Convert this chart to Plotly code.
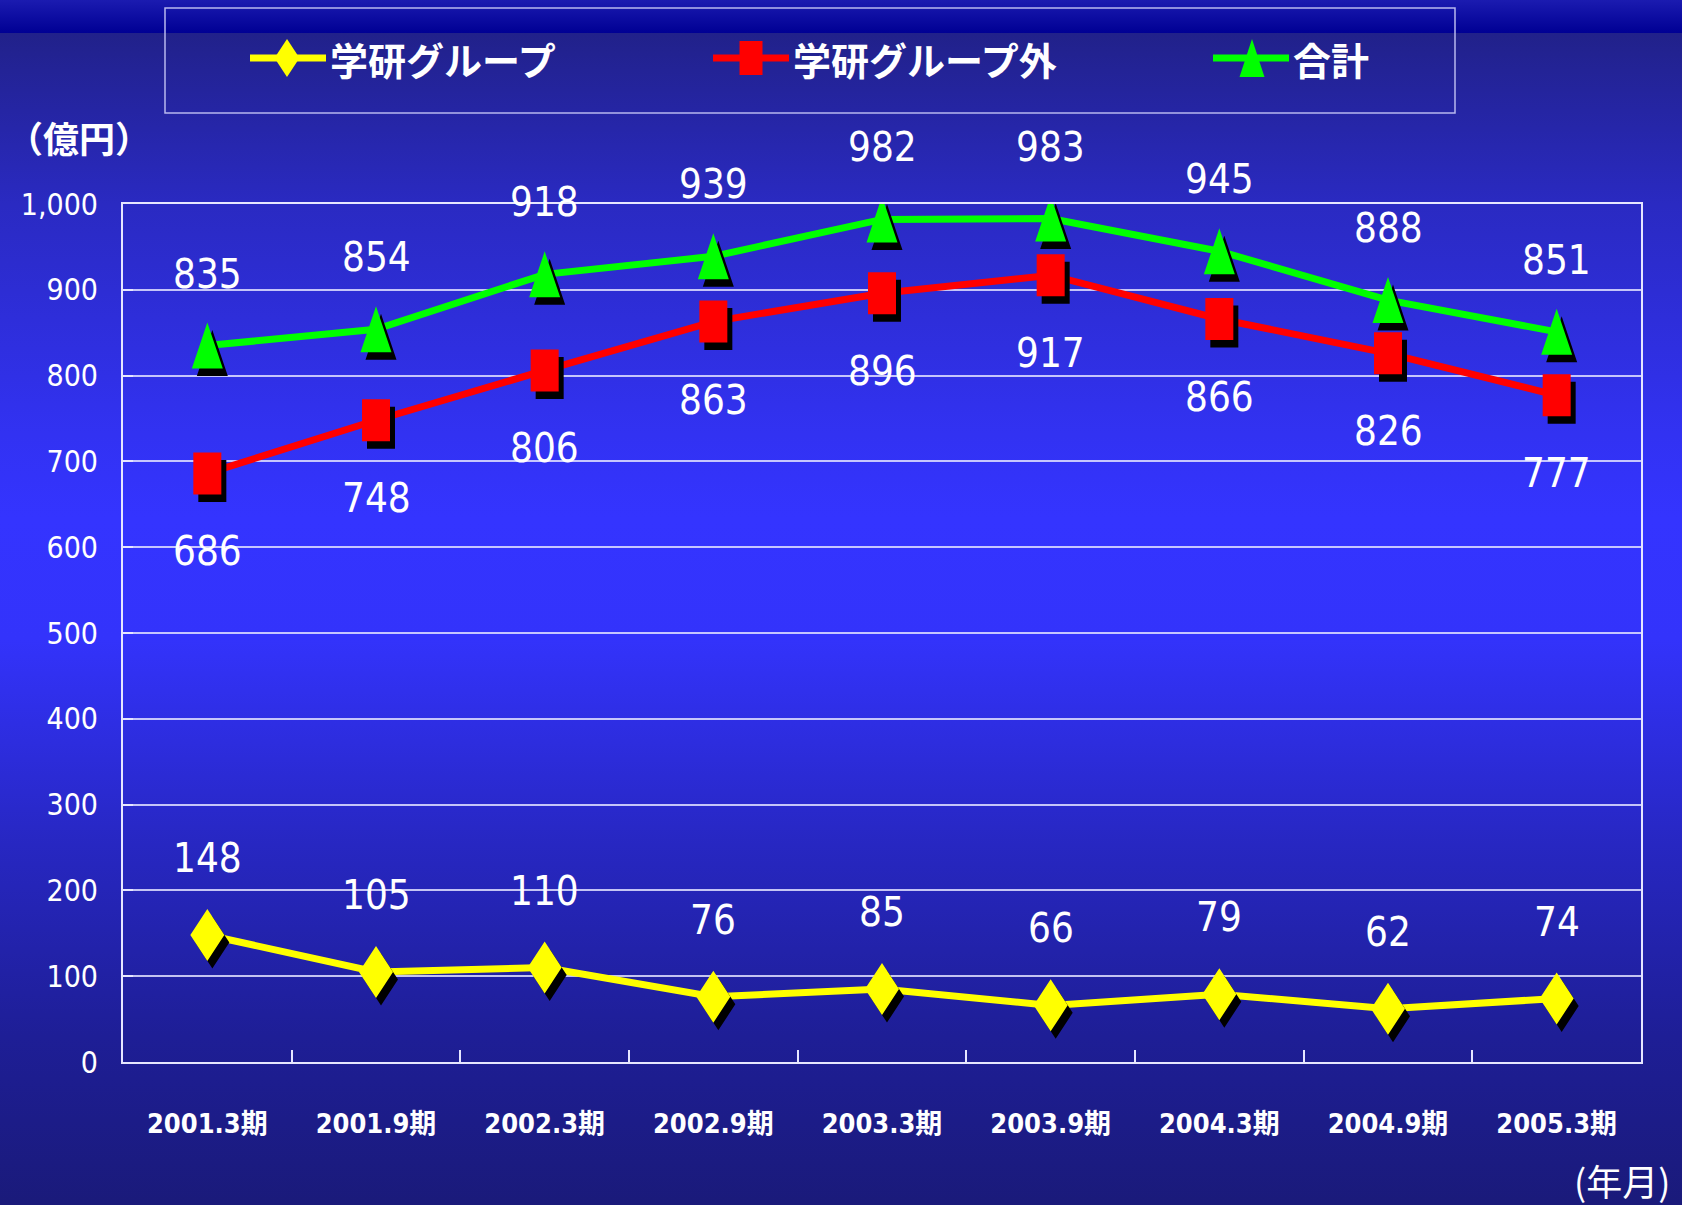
import base64
import plotly.graph_objects as go

# ---------------- data ----------------
categories = ["2001.3期", "2001.9期", "2002.3期", "2002.9期", "2003.3期",
              "2003.9期", "2004.3期", "2004.9期", "2005.3期"]
gakken_group = [148, 105, 110, 76, 85, 66, 79, 62, 74]
gakken_outside = [686, 748, 806, 863, 896, 917, 866, 826, 777]
total = [835, 854, 918, 939, 982, 983, 945, 888, 851]
series_names = ["学研グループ", "学研グループ外", "合計"]
y_ticks = [0, 100, 200, 300, 400, 500, 600, 700, 800, 900, 1000]
y_tick_labels = ["0", "100", "200", "300", "400", "500", "600", "700", "800", "900", "1,000"]
y_unit = "（億円）"
x_unit = "(年月)"

# ---------------- geometry ----------------
W, H = 1682, 1205
ML, MR, MT, MB = 123, 41, 204, 143
PW, PH = W - ML - MR, H - MT - MB
XMIN, XMAX = -0.5, len(categories) - 0.5
YMIN, YMAX = 0, 1000
PXX = PW / (XMAX - XMIN)
PXY = PH / (YMAX - YMIN)


def paper_x(px):
    return (px - ML) / PW


def paper_y(py):
    return (H - MB - py) / PH


NUM_FONT = "DejaVu Sans Condensed, Liberation Sans, Noto Sans CJK JP, sans-serif"
JP_FONT = "Noto Sans CJK JP, Liberation Sans, sans-serif"
LIGHT = "#e6e6ff"

# ---------------- background gradient (SVG image) ----------------
stops = [
    (0.000, "#1b1bb0"), (0.027, "#000094"), (0.0272, "#21218a"),
    (0.17, "#2a2ac2"), (0.36, "#3232f2"), (0.43, "#3434ff"),
    (0.53, "#3333fb"), (0.70, "#2727c2"), (0.86, "#1e1e96"), (1.0, "#1a1a7a"),
]
stop_xml = "".join(f'<stop offset="{o}" stop-color="{c}"/>' for o, c in stops)
svg = (f'<svg xmlns="http://www.w3.org/2000/svg" width="{W}" height="{H}" preserveAspectRatio="none">'
       f'<defs><linearGradient id="g" x1="0" y1="0" x2="0" y2="1">{stop_xml}</linearGradient></defs>'
       f'<rect x="0" y="0" width="{W}" height="{H}" fill="url(#g)"/></svg>')
bg_src = "data:image/svg+xml;base64," + base64.b64encode(svg.encode("utf-8")).decode("ascii")

# ---------------- marker polygons ----------------
SHAPES = {
    "diamond": [(0, 0.5), (0.5, 0), (0, -0.5), (-0.5, 0)],
    "square": [(-0.5, -0.5), (0.5, -0.5), (0.5, 0.5), (-0.5, 0.5)],
    "triangle": [(0, 0.5), (0.5, -0.5), (-0.5, -0.5)],
}


def polygons(values, kind, w, h, dx=0.0, dy=0.0):
    xs, ys = [], []
    for i, v in enumerate(values):
        for ox, oy in SHAPES[kind] + [SHAPES[kind][0]]:
            xs.append(i + (ox * w + dx) / PXX)
            ys.append(v + (oy * h + dy) / PXY)
        xs.append(None)
        ys.append(None)
    return xs, ys


series = [
    dict(name=series_names[0], values=gakken_group, color="#ffff00", kind="diamond", w=34, h=52, shift=77),
    dict(name=series_names[1], values=gakken_outside, color="#ff0000", kind="square", w=28, h=42, shift=-78),
    dict(name=series_names[2], values=total, color="#00ff00", kind="triangle", w=31, h=46, shift=72),
]

fig = go.Figure()
xs_idx = list(range(len(categories)))
for s in series:
    fig.add_trace(go.Scatter(x=xs_idx, y=s["values"], mode="lines", name=s["name"],
                             line=dict(color=s["color"], width=7), showlegend=False,
                             hovertext=categories, hoverinfo="text+y+name"))
    sx, sy = polygons(s["values"], s["kind"], s["w"], s["h"], dx=5, dy=-7.5)
    fig.add_trace(go.Scatter(x=sx, y=sy, mode="lines", fill="toself", fillcolor="#000000",
                             line=dict(width=0, color="#000000"), showlegend=False, hoverinfo="skip"))
    mx, my = polygons(s["values"], s["kind"], s["w"], s["h"])
    fig.add_trace(go.Scatter(x=mx, y=my, mode="lines", fill="toself", fillcolor=s["color"],
                             line=dict(width=0, color=s["color"]), showlegend=False, hoverinfo="skip"))

annotations = []
for s in series:
    for i, v in enumerate(s["values"]):
        annotations.append(dict(x=i, y=v, xref="x", yref="y", text=str(v), showarrow=False,
                                yshift=s["shift"], xanchor="center", yanchor="middle",
                                font=dict(family=NUM_FONT, size=40, color="white")))

annotations.append(dict(x=paper_x(79), y=paper_y(137), xref="paper", yref="paper", text=y_unit,
                        showarrow=False, xanchor="center", yanchor="middle",
                        font=dict(family=JP_FONT, size=36, color="white", weight="bold")))
annotations.append(dict(x=paper_x(1622), y=paper_y(1180), xref="paper", yref="paper", text=x_unit,
                        showarrow=False, xanchor="center", yanchor="middle",
                        font=dict(family=JP_FONT, size=36, color="white")))

# ---------------- manual legend ----------------
shapes = [dict(type="rect", xref="paper", yref="paper", x0=paper_x(165), x1=paper_x(1455),
               y0=paper_y(8), y1=paper_y(113), line=dict(color="#b8b8ee", width=1.5),
               fillcolor="rgba(0,0,0,0)", layer="above")]
legend_items = [
    dict(x0=250, x1=326, mx=287, text_x=328, w=25, h=38),
    dict(x0=713, x1=789, mx=751, text_x=791, w=23, h=34),
    dict(x0=1213, x1=1289, mx=1252, text_x=1291, w=25, h=38),
]
LEG_Y = 58
for s, li in zip(series, legend_items):
    shapes.append(dict(type="line", xref="paper", yref="paper", x0=paper_x(li["x0"]), x1=paper_x(li["x1"]),
                       y0=paper_y(LEG_Y), y1=paper_y(LEG_Y), line=dict(color=s["color"], width=7), layer="above"))
    pts = SHAPES[s["kind"]]
    path = "M " + " L ".join(f"{paper_x(li['mx'] + ox * li['w']):.5f},{paper_y(LEG_Y - oy * li['h']):.5f}"
                             for ox, oy in pts) + " Z"
    shapes.append(dict(type="path", xref="paper", yref="paper", path=path, fillcolor=s["color"],
                       line=dict(width=0, color=s["color"]), layer="above"))
    annotations.append(dict(x=paper_x(li["text_x"]), y=paper_y(LEG_Y + 1), xref="paper", yref="paper",
                            text=s["name"], showarrow=False, xanchor="left", yanchor="middle",
                            font=dict(family=JP_FONT, size=38, color="white", weight="bold")))

fig.update_layout(
    width=W, height=H,
    margin=dict(l=ML, r=MR, t=MT, b=MB, pad=0),
    paper_bgcolor="#2a2ac0", plot_bgcolor="rgba(0,0,0,0)",
    showlegend=False,
    images=[dict(source=bg_src, xref="paper", yref="paper", x=paper_x(0), y=paper_y(0),
                 sizex=W / PW, sizey=H / PH, xanchor="left", yanchor="top",
                 sizing="stretch", layer="below")],
    shapes=shapes,
    annotations=annotations,
    xaxis=dict(range=[XMIN, XMAX], tickmode="array", tickvals=xs_idx, ticktext=categories,
               ticks="", showgrid=False, zeroline=False, showline=True, mirror=True,
               linecolor=LIGHT, linewidth=2, ticklabelstandoff=37,
               tickfont=dict(family=NUM_FONT, size=27, color="white", weight="bold"),
               minor=dict(tickmode="array", tickvals=[i + 0.5 for i in xs_idx[:-1]],
                          ticks="inside", ticklen=12, tickwidth=2, tickcolor=LIGHT, showgrid=False),
               fixedrange=True),
    yaxis=dict(range=[YMIN, YMAX], tickmode="array", tickvals=y_ticks, ticktext=y_tick_labels,
               ticks="inside", ticklen=10, tickwidth=2, tickcolor=LIGHT,
               showgrid=True, gridcolor="rgba(225,225,255,0.85)", gridwidth=1.5,
               zeroline=False, showline=True, mirror=True, linecolor=LIGHT, linewidth=2,
               ticklabelstandoff=17, tickfont=dict(family=NUM_FONT, size=30, color="white"),
               fixedrange=True),
)

fig.write_html("out.html", config={"displayModeBar": False},
               post_script="document.body.style.margin='0px';document.body.style.overflow='hidden';")
